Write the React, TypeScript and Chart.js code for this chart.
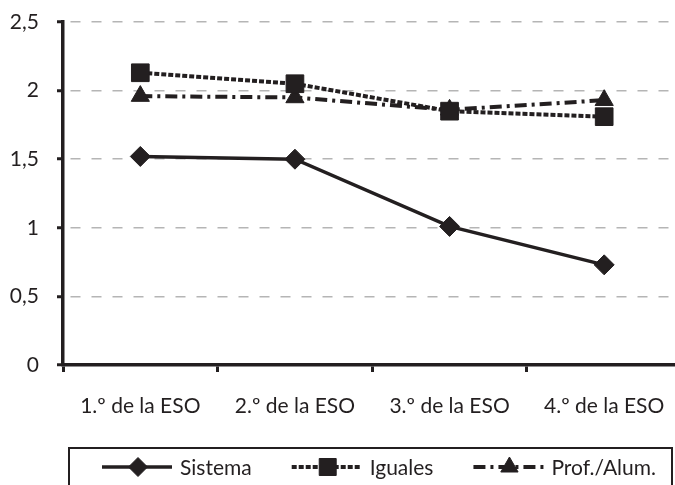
import React, { useEffect, useRef } from "react";
import { Chart, registerables } from "chart.js";
import { drawPoint } from "chart.js/helpers";

Chart.register(...registerables);

const categories = ["1.º de la ESO", "2.º de la ESO", "3.º de la ESO", "4.º de la ESO"];
const seriesNames = ["Sistema", "Iguales", "Prof./Alum."];
const sistema = [1.52, 1.5, 1.01, 0.73];
const iguales = [2.13, 2.05, 1.85, 1.81];
const profAlum = [1.96, 1.95, 1.86, 1.93];
const yMin = 0;
const yMax = 2.5;
const yStep = 0.5;

const FONT = "Lato, 'Open Sans', sans-serif";
const INK = "#231f20";

const legendBox = {
  id: "legendBox",
  afterDraw(chart: any) {
    const ctx = chart.ctx as CanvasRenderingContext2D;
    ctx.save();
    ctx.strokeStyle = INK;
    ctx.lineWidth = 2;
    ctx.setLineDash([]);
    ctx.strokeRect(69, 448, 603, 60);
    ctx.font = `21px ${FONT}`;
    ctx.textBaseline = "middle";
    ctx.textAlign = "left";
    const y = 467;
    let x = 102;
    chart.data.datasets.forEach((ds: any) => {
      ctx.save();
      ctx.strokeStyle = ds.borderColor;
      ctx.lineWidth = ds.borderWidth;
      ctx.setLineDash(ds.borderDash || []);
      ctx.beginPath();
      ctx.moveTo(x, y);
      ctx.lineTo(x + 70, y);
      ctx.stroke();
      ctx.restore();
      ctx.save();
      ctx.setLineDash([]);
      ctx.fillStyle = ds.pointBackgroundColor;
      ctx.strokeStyle = ds.pointBorderColor;
      ctx.lineWidth = 1;
      drawPoint(ctx, { pointStyle: ds.pointStyle, radius: ds.pointRadius - 0.5, rotation: 0, borderWidth: 1 } as any, x + 36, y);
      ctx.restore();
      ctx.fillStyle = INK;
      ctx.fillText(ds.label, x + 78, y + 1);
      const w = ctx.measureText(ds.label).width;
      x = x + 78 + w + 40;
    });
    ctx.restore();
  },
};

export default function App() {
  const ref = useRef<HTMLCanvasElement | null>(null);
  useEffect(() => {
    if (!ref.current) return;
    const chart = new Chart(ref.current, {
      type: "line",
      data: {
        labels: categories,
        datasets: [
          {
            label: seriesNames[0],
            data: sistema,
            borderColor: INK,
            backgroundColor: INK,
            borderWidth: 3.5,
            pointStyle: "rectRot",
            pointRadius: 10,
            pointBackgroundColor: INK,
            pointBorderColor: INK,
            pointBorderWidth: 1,
            tension: 0,
          },
          {
            label: seriesNames[1],
            data: iguales,
            borderColor: INK,
            backgroundColor: INK,
            borderWidth: 4,
            borderDash: [5, 2],
            pointStyle: "rect",
            pointRadius: 12.5,
            pointBackgroundColor: INK,
            pointBorderColor: INK,
            pointBorderWidth: 1,
            tension: 0,
          },
          {
            label: seriesNames[2],
            data: profAlum,
            borderColor: INK,
            backgroundColor: INK,
            borderWidth: 4,
            borderDash: [12, 5, 3, 5],
            pointStyle: "triangle",
            pointRadius: 10.5,
            pointBackgroundColor: INK,
            pointBorderColor: INK,
            pointBorderWidth: 1,
            tension: 0,
          },
        ],
      },
      options: {
        responsive: false,
        animation: false,
        clip: false as any,
        layout: { padding: { top: 22, right: 11, bottom: 60, left: 0 } },
        plugins: { legend: { display: false }, tooltip: { enabled: false } },
        scales: {
          x: {
            offset: true,
            grid: {
              offset: true,
              drawOnChartArea: false,
              drawTicks: true,
              tickLength: 7,
              tickColor: INK,
              tickWidth: 3,
            },
            border: { display: true, color: INK, width: 3.5 },
            ticks: { color: INK, font: { family: FONT, size: 21 }, padding: 22, maxRotation: 0, autoSkip: false },
            afterFit: (s: any) => {
              s.height = 60;
              s.paddingLeft = 0;
              s.paddingRight = 0;
            },
          },
          y: {
            min: yMin,
            max: yMax,
            ticks: {
              stepSize: yStep,
              color: INK,
              font: { family: FONT, size: 21 },
              padding: 18,
              callback: (v: any) => String(v).replace(".", ","),
            },
            grid: {
              color: "#b5b5b5",
              lineWidth: 1.5,
              tickColor: INK,
              tickWidth: 3,
              tickLength: 6,
              tickBorderDash: [],
            },
            border: { display: true, color: INK, width: 3.5, dash: [10, 11], dashOffset: -6 },
            afterFit: (s: any) => {
              s.width = 63;
              s.paddingTop = 0;
              s.paddingBottom = 0;
            },
          },
        },
      },
      plugins: [legendBox],
    });
    return () => chart.destroy();
  }, []);
  return (
    <div
      style={{
        position: "fixed",
        left: 0,
        top: 0,
        width: 675,
        height: 485,
        overflow: "hidden",
        background: "#fff",
      }}
    >
      <canvas ref={ref} width={695} height={485} style={{ width: 695, height: 485, display: "block" }} />
    </div>
  );
}
